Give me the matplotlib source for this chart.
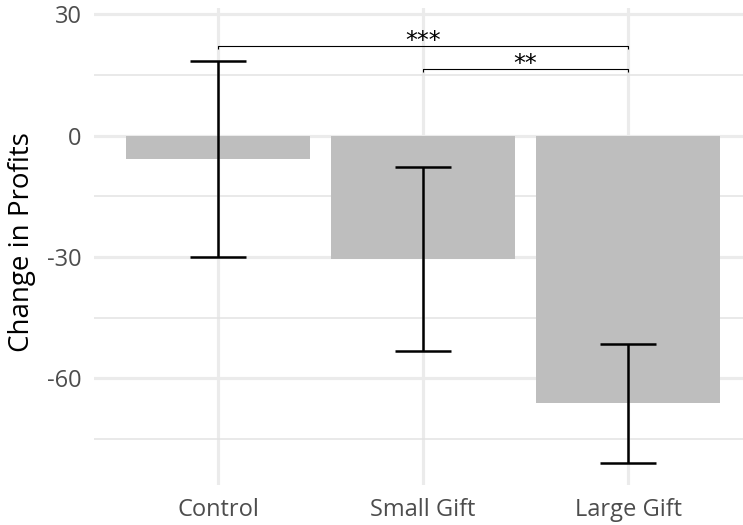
import matplotlib
matplotlib.use("Agg")
import matplotlib.pyplot as plt
import numpy as np

groups = ["Control", "Small Gift", "Large Gift"]
means = [-5.7, -30.5, -66.2]
errors = [24.2, 22.7, 14.7]
yticks = [30, 0, -30, -60]
minor_yticks = [15, -15, -45, -75]

# significance brackets: (left group, right group, height, label)
brackets = [(0, 2, 22.2, "***"), (1, 2, 16.5, "**")]

plt.rcParams["font.family"] = ["Open Sans", "DejaVu Sans"]
plt.rcParams["axes.unicode_minus"] = False

W, H = 743, 525
fig = plt.figure(figsize=(W / 100, H / 100), dpi=100)
left, right, top, bottom = 94, 743, 8, 485
ax = fig.add_axes([left / W, 1 - bottom / H, (right - left) / W, (bottom - top) / H])

x = np.arange(1, len(groups) + 1)
ax.bar(x, means, width=0.9, color="#BEBEBE", zorder=2)
ax.errorbar(x, means, yerr=errors, fmt="none", ecolor="black",
            elinewidth=1.8, capsize=20, capthick=1.8, zorder=3)

for i, j, h, lab in brackets:
    xi, xj = x[i], x[j]
    ax.plot([xi, xi, xj, xj], [h - 0.8, h, h, h - 0.8], color="black",
            lw=0.8, zorder=4, solid_capstyle="butt")
    ax.text((xi + xj) / 2, h - 0.4, lab, ha="center", va="baseline",
            fontsize=17, family="DejaVu Sans", color="black", zorder=4)

ax.set_xlim(0.395, 3.56)
ax.set_ylim(-86.4, 31.6)
ax.set_xticks(x)
ax.set_xticklabels(groups)
ax.set_yticks(yticks)
ax.set_yticks(minor_yticks, minor=True)

ax.grid(True, which="major", color="#EBEBEB", lw=2.3, zorder=0)
ax.grid(True, which="minor", axis="y", color="#E3E3E3", lw=1.1, zorder=0)
ax.set_axisbelow(True)
for s in ax.spines.values():
    s.set_visible(False)
ax.tick_params(which="both", length=0)
ax.tick_params(axis="both", labelsize=17, labelcolor="#4D4D4D")
ax.tick_params(axis="x", pad=9)
ax.tick_params(axis="y", pad=9)
ax.set_ylabel("Change in Profits", fontsize=20, color="black")
ax.yaxis.set_label_coords((22 - left) / (right - left), (bottom - 242.5) / (bottom - top))
ax.yaxis.label.set_verticalalignment("center")

fig.savefig("out.png", dpi=100)
